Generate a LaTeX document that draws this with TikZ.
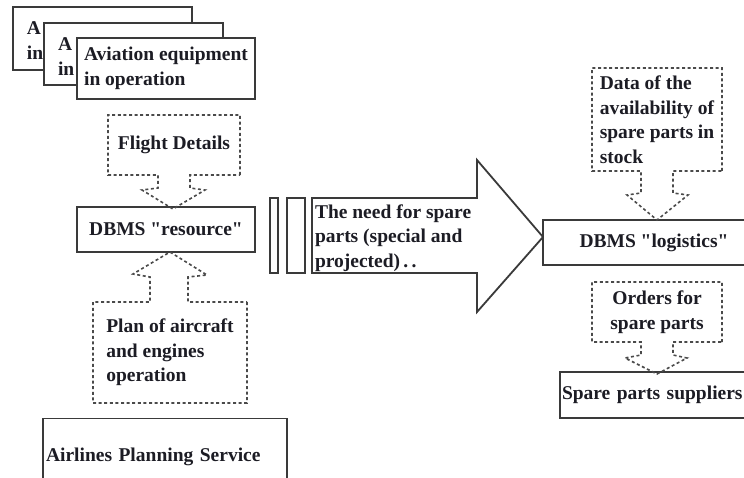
\documentclass[tikz,border=0pt]{standalone}
\usepackage{fontspec}
\setmainfont{Liberation Serif}
\usetikzlibrary{calc}
\definecolor{boxgray}{HTML}{3A3A3A}
\definecolor{dashgray}{HTML}{4A4A4A}
\definecolor{txtc}{HTML}{1C1C24}
\newcommand\diagfont{\fontsize{19.5}{24.5}\selectfont\bfseries}
\begin{document}
\begin{tikzpicture}[x=1pt,y=-1pt,
  solidbox/.style={draw=boxgray, line width=1.8pt, fill=white, inner sep=0pt, outer sep=0pt, font=\diagfont, text=txtc, align=left},
  plainbox/.style={inner sep=0pt, outer sep=0pt, font=\diagfont, text=txtc, align=left},
  dashline/.style={draw=dashgray, line width=1.6pt, dash pattern=on 3pt off 2.6pt, line join=miter},
  solidline/.style={draw=boxgray, line width=1.8pt, line join=miter}]
\clip (0,0) rectangle (744,478);
\fill[white] (0,0) rectangle (744,478);

% stacked equipment boxes
\node[solidbox, minimum width=179, minimum height=63] (av1) at (102.5,38.5) {};
\node[plainbox, anchor=north west] (av1t) at (27,22) {A\\in};
\node[solidbox, minimum width=179, minimum height=62] (av2) at (133.5,54) {};
\node[plainbox, anchor=north west] (av2t) at (58,38) {A\\in};
\node[solidbox, minimum width=178, minimum height=61] (av3) at (166,68.5) {Aviation equipment\\in operation};

% resource DBMS
\node[solidbox, minimum width=178, minimum height=45] (resource) at (166,229.5) {DBMS \textquotedbl resource\textquotedbl};

% flight details
\node[plainbox, minimum width=132, minimum height=60] (flight) at (174,145) {Flight Details};
\draw[dashline] (flight.south east) -- (flight.north east) -- (flight.north west) -- (flight.south west)
  -- (158,175) -- (158,188) -- (142,190) -- ($(resource.north)+(7,2)$) -- (205,190) -- (190,188) -- (190,175) -- cycle;

% plan
\node[plainbox, minimum width=154, minimum height=101] (plan) at (170,352.5) {Plan of aircraft\\and engines\\operation};
\draw[dashline] (plan.north east) -- (plan.south east) -- (plan.south west) -- (plan.north west)
  -- (150,302) -- (150,277) -- (133,274) -- ($(resource.south)+(4,0)$) -- (207,275) -- (188,277) -- (188,302) -- cycle;

% airlines planning service
\node[solidbox, minimum width=244, minimum height=77, text width=238] (airlines) at (165,457) {Airlines Planning Service};

% bars and big arrow
\node[solidbox, minimum width=8, minimum height=75] (bar1) at (274,235.5) {};
\node[solidbox, minimum width=18, minimum height=75] (bar2) at (296,235.5) {};
\draw[solidline, fill=white] (312,198) -- (477,198) -- (477,160) -- (543,237) -- (477,312) -- (477,273) -- (312,273) -- cycle;
\node[plainbox, anchor=west] (need) at (315,238) {The need for spare\\parts (special and\\projected)\,.\,.};

% logistics
\node[solidbox, minimum width=222, minimum height=45] (logistics) at (654,242.5) {DBMS \textquotedbl logistics\textquotedbl};

% data of availability
\node[plainbox, minimum width=130, minimum height=103] (data) at (657,119.5) {Data of the\\availability of\\spare parts in\\stock};
\draw[dashline] (data.south east) -- (data.north east) -- (data.north west) -- (data.south west)
  -- (641,171) -- (641,193) -- (627,195) -- ($(logistics.north)+(3,0)$) -- (688,195) -- (673,193) -- (673,171) -- cycle;

% suppliers
\node[solidbox, minimum width=200, minimum height=46, text width=196] (suppliers) at (660,395) {Spare parts suppliers};

% orders
\node[plainbox, minimum width=130, minimum height=60, align=center] (orders) at (657,312) {Orders for\\spare parts};
\draw[dashline] (orders.south east) -- (orders.north east) -- (orders.north west) -- (orders.south west)
  -- (641,342) -- (641,355) -- (625,358) -- ($(suppliers.north)+(-3,2)$) -- (687,358) -- (673,355) -- (673,342) -- cycle;
\end{tikzpicture}
\end{document}
